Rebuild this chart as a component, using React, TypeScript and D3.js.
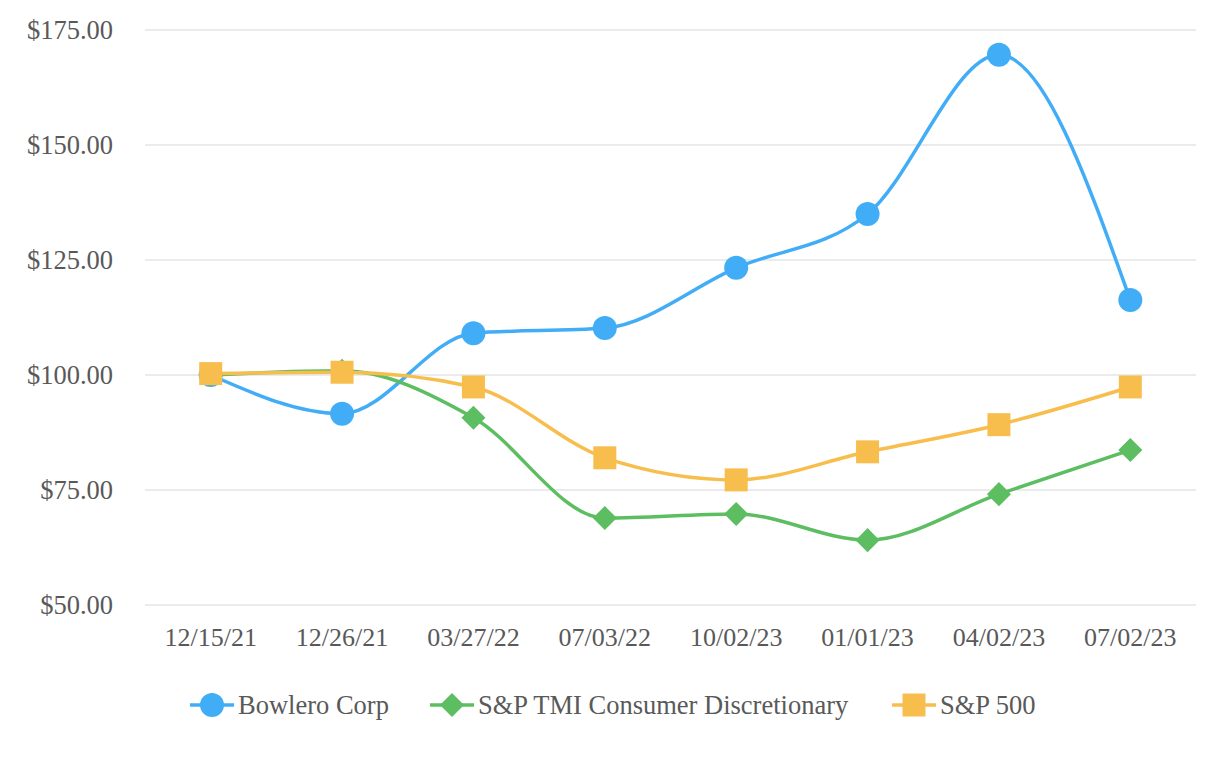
import { useEffect, useRef } from "react";
import * as d3 from "d3";

const dates = ["12/15/21", "12/26/21", "03/27/22", "07/03/22", "10/02/23", "01/01/23", "04/02/23", "07/02/23"];
const bowlero = [100, 91.6, 109.1, 110.2, 123.3, 135, 169.6, 116.3];
const spTmi = [100, 100.9, 90.7, 68.9, 69.8, 64.1, 74.1, 83.7];
const sp500 = [100.3, 100.6, 97.4, 82, 77.2, 83.3, 89.2, 97.4];
const yTicks = [50, 75, 100, 125, 150, 175];

const seriesNames = ["Bowlero Corp", "S&P TMI Consumer Discretionary", "S&P 500"];
const seriesColors = ["#42adf7", "#5dbd61", "#f8be4d"];
const seriesShapes = ["circle", "diamond", "square"];

const width = 1226;
const height = 760;
const font = "'Liberation Serif', 'Times New Roman', serif";

const App: React.FC = () => {
  const svgRef = useRef<SVGSVGElement | null>(null);

  useEffect(() => {
    if (!svgRef.current) return;
    const svg = d3.select(svgRef.current);
    svg.selectAll("*").remove();

    const x = d3.scalePoint<string>().domain(dates).range([145, 1196]).padding(0.5);
    const y = d3.scaleLinear().domain([50, 175]).range([605, 30]);

    // grid + y labels
    svg
      .append("g")
      .selectAll("line")
      .data(yTicks)
      .enter()
      .append("line")
      .attr("x1", 145)
      .attr("x2", 1196)
      .attr("y1", (d) => y(d))
      .attr("y2", (d) => y(d))
      .attr("stroke", "#e5e5e5")
      .attr("stroke-width", 1.5);

    svg
      .append("g")
      .selectAll("text")
      .data(yTicks)
      .enter()
      .append("text")
      .attr("x", 113)
      .attr("y", (d) => y(d))
      .attr("dy", "0.35em")
      .attr("text-anchor", "end")
      .attr("font-family", font)
      .attr("font-size", 26.5)
      .attr("fill", "#595959")
      .text((d) => `$${d.toFixed(2)}`);

    svg
      .append("g")
      .selectAll("text")
      .data(dates)
      .enter()
      .append("text")
      .attr("x", (d) => x(d)!)
      .attr("y", 637)
      .attr("dy", "0.35em")
      .attr("text-anchor", "middle")
      .attr("font-family", font)
      .attr("font-size", 26)
      .attr("fill", "#595959")
      .text((d) => d);

    const symbolFor = (shape: string) => {
      if (shape === "circle") return d3.symbol().type(d3.symbolCircle).size(Math.PI * 12 * 12)();
      if (shape === "square") return d3.symbol().type(d3.symbolSquare).size(23 * 23)();
      return d3.symbol().type(d3.symbolSquare).size(17 * 17)();
    };
    const rotFor = (shape: string) => (shape === "diamond" ? " rotate(45)" : "");

    const line = d3
      .line<number>()
      .x((_, i) => x(dates[i])!)
      .y((d) => y(d))
      .curve(d3.curveMonotoneX);

    [bowlero, spTmi, sp500].forEach((values, s) => {
      const g = svg.append("g");
      g.append("path")
        .attr("d", line(values))
        .attr("fill", "none")
        .attr("stroke", seriesColors[s])
        .attr("stroke-width", 3.5);
      g.selectAll("path.mark")
        .data(values)
        .enter()
        .append("path")
        .attr("class", "mark")
        .attr("d", symbolFor(seriesShapes[s]))
        .attr("fill", seriesColors[s])
        .attr("transform", (d, i) => `translate(${x(dates[i])},${y(d)})${rotFor(seriesShapes[s])}`);
    });

    // legend
    const legendX = [190, 430, 892];
    const legendY = 705;
    const legend = svg.append("g");
    seriesNames.forEach((name, s) => {
      const lx = legendX[s];
      legend
        .append("line")
        .attr("x1", lx)
        .attr("x2", lx + 44)
        .attr("y1", legendY)
        .attr("y2", legendY)
        .attr("stroke", seriesColors[s])
        .attr("stroke-width", 3.5);
      legend
        .append("path")
        .attr("d", symbolFor(seriesShapes[s]))
        .attr("fill", seriesColors[s])
        .attr("transform", `translate(${lx + 22},${legendY})${rotFor(seriesShapes[s])}`);
      legend
        .append("text")
        .attr("x", lx + 48)
        .attr("y", legendY)
        .attr("dy", "0.35em")
        .attr("font-family", font)
        .attr("font-size", 26.5)
        .attr("fill", "#595959")
        .text(name);
    });
  }, []);

  return (
    <svg
      ref={svgRef}
      width={width}
      height={height}
      style={{ position: "absolute", left: 0, top: 0, background: "#fff" }}
    />
  );
};

export default App;
